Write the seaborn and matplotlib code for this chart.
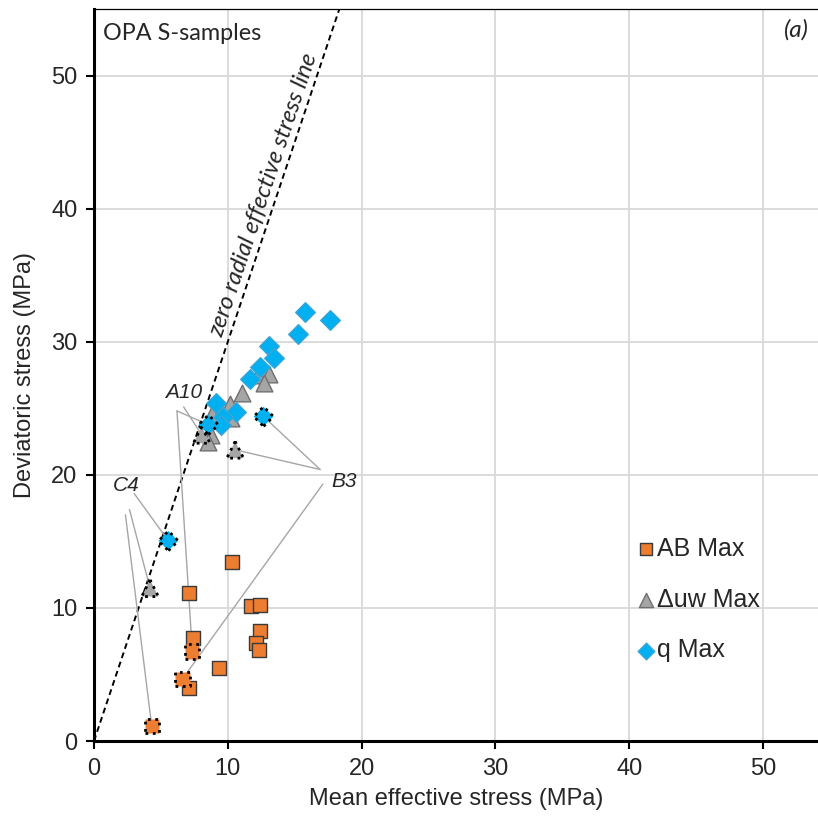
import numpy as np
import pandas as pd
import matplotlib
matplotlib.use("Agg")
import matplotlib.pyplot as plt
import seaborn as sns

# Peak states in p'-q space (MPa)
ab_p = [10.32, 7.08, 11.74, 12.37, 7.43, 12.42, 12.07, 12.34, 9.37, 7.13]
ab_q = [13.46, 11.15, 10.15, 10.20, 7.72, 8.24, 7.34, 6.84, 5.51, 3.96]

uw_p = [13.11, 12.29, 12.71, 11.05, 10.13, 8.85, 10.25, 8.73, 8.55]
uw_q = [27.59, 27.52, 26.90, 26.14, 25.31, 24.56, 24.26, 23.00, 22.46]

qm_p = [15.73, 17.65, 15.28, 13.09, 13.44, 12.42, 11.69, 9.12, 10.62, 9.62, 9.47]
qm_q = [32.23, 31.63, 30.56, 29.70, 28.77, 28.12, 27.22, 25.39, 24.71, 24.38, 23.71]

# Highlighted samples: order AB Max, Δuw Max, q Max
samples = ["A10", "B3", "C4"]
hl_p = {"A10": [7.35, 8.05, 8.55], "B3": [6.61, 10.55, 12.67], "C4": [4.31, 4.19, 5.56]}
hl_q = {"A10": [6.72, 23.00, 23.76], "B3": [4.66, 21.88, 24.38], "C4": [1.15, 11.48, 15.04]}
label_pos = {"A10": (6.73, 26.2), "B3": (18.7, 19.5), "C4": (2.4, 19.2)}
leader_start = {
    "A10": [(6.2, 24.8), (6.7, 25.1), (6.2, 24.8)],
    "B3": [(17.1, 19.3), (16.9, 20.4), (16.9, 20.4)],
    "C4": [(2.35, 17.0), (2.65, 17.4), (3.0, 18.6)],
}

series = ["AB Max", "Δuw Max", "q Max"]
colors = {"AB Max": "#ED7D31", "Δuw Max": "#A5A5A5", "q Max": "#00B0F0"}
edges = {"AB Max": "#3a3a3a", "Δuw Max": "#6f6f6f", "q Max": "#3aa6d6"}
markers = {"AB Max": "s", "Δuw Max": "^", "q Max": "D"}
sizes = {"AB Max": 105, "Δuw Max": 145, "q Max": 100}

df = pd.concat([
    pd.DataFrame({"p": ab_p, "q": ab_q, "kind": "AB Max"}),
    pd.DataFrame({"p": uw_p, "q": uw_q, "kind": "Δuw Max"}),
    pd.DataFrame({"p": qm_p, "q": qm_q, "kind": "q Max"}),
])

sns.set_style("white")
plt.rcParams["font.family"] = ["Liberation Sans", "DejaVu Sans"]

fig = plt.figure(figsize=(8.18, 8.25), dpi=100)
ax = fig.add_axes([0.1149, 0.1018, 0.8851, 0.8873])

xmax, ymax = 54.1, 55.0
ax.set_xlim(0, xmax)
ax.set_ylim(0, ymax)
ax.set_xticks(np.arange(0, 51, 10))
ax.set_yticks(np.arange(0, 51, 10))
ax.grid(True, color="#d9d9d9", linewidth=1.3)
ax.set_axisbelow(True)

# zero radial effective stress line: q = 3 p'
pl = np.array([0, ymax / 3.0])
ax.plot(pl, 3 * pl, linestyle=(0, (3, 2)), color="black", linewidth=1.4, zorder=2)
ax.text(12.65, 41.0, "zero radial effective stress line", rotation=71.4,
        rotation_mode="anchor", ha="center", va="center", fontsize=17.2,
        style="italic", family=["Lato", "DejaVu Sans"])

# leader lines from sample labels to their points
for s in samples:
    for (x0, y0), x1, y1 in zip(leader_start[s], hl_p[s], hl_q[s]):
        ax.plot([x0, x1], [y0, y1], color="#a6a6a6", linewidth=1.0, zorder=2)
    ax.text(*label_pos[s], s, fontsize=15, style="italic", ha="center", va="center")

for k in series:
    sub = df[df["kind"] == k]
    sns.scatterplot(data=sub, x="p", y="q", marker=markers[k], s=sizes[k],
                    color=colors[k], edgecolor=edges[k], linewidth=1.0,
                    ax=ax, label=k, zorder=3)

# highlighted samples with dotted outlines
for i, k in enumerate(series):
    px = [hl_p[s][i] for s in samples]
    qy = [hl_q[s][i] for s in samples]
    ax.scatter(px, qy, marker=markers[k], s=sizes[k], c=colors[k],
               edgecolors="black", linewidths=2.0, linestyles=":", zorder=4)

ax.set_xlabel("Mean effective stress (MPa)", fontsize=17, labelpad=6)
ax.set_ylabel("Deviatoric stress (MPa)", fontsize=17, labelpad=11)
ax.tick_params(axis="both", labelsize=17, direction="out", length=6, width=1.5,
               color="black", left=True, bottom=True, pad=6)

for side in ["left", "bottom"]:
    ax.spines[side].set_color("black")
    ax.spines[side].set_linewidth(2.2)
ax.spines["top"].set_color("black")
ax.spines["top"].set_linewidth(0.9)
ax.spines["right"].set_visible(False)

ax.text(0.013, 0.967, "OPA S-samples", transform=ax.transAxes, fontsize=16.8,
        family=["Lato", "DejaVu Sans"], ha="left", va="center")
ax.text(0.97, 0.972, "(a)", transform=ax.transAxes, fontsize=17.5,
        family=["Lato", "DejaVu Sans"], style="italic", ha="center", va="center")

leg = ax.legend(loc="center left", bbox_to_anchor=(0.71, 0.193), frameon=False,
                fontsize=18, labelspacing=1.07, handletextpad=-0.15,
                handlelength=1.2, markerscale=0.85)

fig.savefig("out.png", dpi=100)
